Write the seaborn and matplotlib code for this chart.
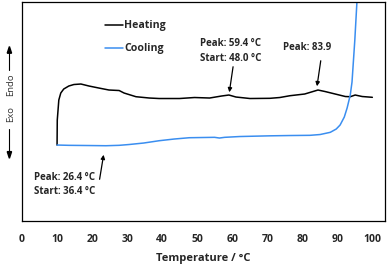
import pandas as pd
import seaborn as sns
import matplotlib.pyplot as plt

# heating curve (temperature in C, heat flow in arbitrary units)
heat_t = [10.0, 10.06, 10.5, 11.06, 11.9, 13.35, 14.8, 16.8, 19.1, 21.9, 24.8, 27.7,
          29.1, 32.5, 36.3, 39.1, 44.9, 49.2, 53.5, 56.9, 59.0, 61.0, 65.0, 70.7,
          73.5, 76.4, 80.6, 84.4, 86.4, 89.3, 92.2, 93.6, 95.0, 97.0, 99.9]
heat_v = [76, 101, 121, 128, 132, 135, 136.5, 137, 135, 133, 131, 130.5,
          128, 124.3, 123, 122.5, 122.5, 123.5, 123, 125, 126, 124, 122.5, 122.7,
          123.5, 125.3, 127, 131, 129.5, 127, 124.5, 124.3, 126, 124.5, 123.7]

# cooling curve
cool_t = [10.0, 13.35, 19.08, 23.95, 27.7, 30.5, 34.7, 39.1, 43.4, 47.7, 54.9, 56.3,
          57.8, 62.1, 70.7, 76.4, 82.1, 85.0, 87.9, 89.6, 90.7, 91.9, 92.7, 93.6,
          94.1, 94.9, 95.5, 95.9]
cool_v = [76, 75.7, 75.5, 75.3, 75.7, 76.5, 78, 80.3, 82, 83.3, 83.7, 83.0,
          83.7, 84.5, 85.2, 85.5, 85.7, 86.5, 88.7, 92, 96, 104, 113, 126,
          139, 181, 219, 240]

x_ticks = [0, 10, 20, 30, 40, 50, 60, 70, 80, 90, 100]

heat_df = pd.DataFrame({'Temperature': heat_t, 'Signal': heat_v})
cool_df = pd.DataFrame({'Temperature': cool_t, 'Signal': cool_v})

sns.set_style('white')
plt.rcParams['font.family'] = ['Open Sans', 'DejaVu Sans']

fig = plt.figure(figsize=(3.92, 2.66), dpi=100)
ax = fig.add_axes([0.0561, 0.169, 0.926, 0.8235])

sns.lineplot(data=heat_df, x='Temperature', y='Signal', color='black', lw=1.1,
             sort=False, estimator=None, ax=ax)
sns.lineplot(data=cool_df, x='Temperature', y='Signal', color='#3a8ef0', lw=1.1,
             sort=False, estimator=None, ax=ax)

ax.set_xlim(0, 103.5)
ax.set_ylim(0, 219)
ax.set_xticks(x_ticks)
ax.set_xticklabels([str(t) for t in x_ticks], fontsize=7.5, fontweight='bold')
ax.set_yticks([])
ax.tick_params(axis='x', direction='in', length=3.5, width=0.8, pad=9, color='black')
for s in ax.spines.values():
    s.set_color('black')
    s.set_linewidth(0.9)
ax.set_xlabel('Temperature / °C', fontsize=8, fontweight='bold', labelpad=6)
ax.set_ylabel('')

# legend drawn by hand as in the original
ax.plot([23.7, 28.9], [196, 196], color='black', lw=1.1)
ax.text(29.1, 196, 'Heating', fontsize=7.6, fontweight='bold', va='center')
ax.plot([23.7, 28.9], [173, 173], color='#3a8ef0', lw=1.1)
ax.text(29.1, 173, 'Cooling', fontsize=7.6, fontweight='bold', va='center')

# annotations
arrow = dict(arrowstyle='-|>', color='black', lw=0.9, mutation_scale=6)
ax.annotate('', xy=(59.0, 126), xytext=(60.3, 157), arrowprops=arrow)
ax.text(50.8, 170, 'Peak: 59.4 °C\nStart: 48.0 °C', fontsize=7, fontweight='bold',
        va='center', linespacing=1.45)
ax.annotate('', xy=(84.0, 132), xytext=(85.3, 163), arrowprops=arrow)
ax.text(74.5, 174, 'Peak: 83.9', fontsize=7, fontweight='bold', va='center')
ax.annotate('', xy=(23.4, 69), xytext=(22.0, 39), arrowprops=arrow)
ax.text(3.3, 36.5, 'Peak: 26.4 °C\nStart: 36.4 °C', fontsize=7, fontweight='bold',
        va='center', linespacing=1.45)

# Endo / Exo labels on the left
fig.text(0.027, 0.68, 'Endo', rotation=90, fontsize=6.8, color='#333333',
         ha='center', va='center')
fig.text(0.027, 0.57, 'Exo', rotation=90, fontsize=6.8, color='#333333',
         ha='center', va='center')
fig.add_artist(plt.Line2D([0.024, 0.024], [0.735, 0.81], color='black', lw=0.8))
fig.patches.append(plt.Polygon([[0.0185, 0.80], [0.0295, 0.80], [0.024, 0.825]],
                               closed=True, color='black', transform=fig.transFigure,
                               figure=fig))
fig.add_artist(plt.Line2D([0.024, 0.024], [0.515, 0.42], color='black', lw=0.8))
fig.patches.append(plt.Polygon([[0.0185, 0.43], [0.0295, 0.43], [0.024, 0.405]],
                               closed=True, color='black', transform=fig.transFigure,
                               figure=fig))

fig.savefig('out.png', dpi=100)
